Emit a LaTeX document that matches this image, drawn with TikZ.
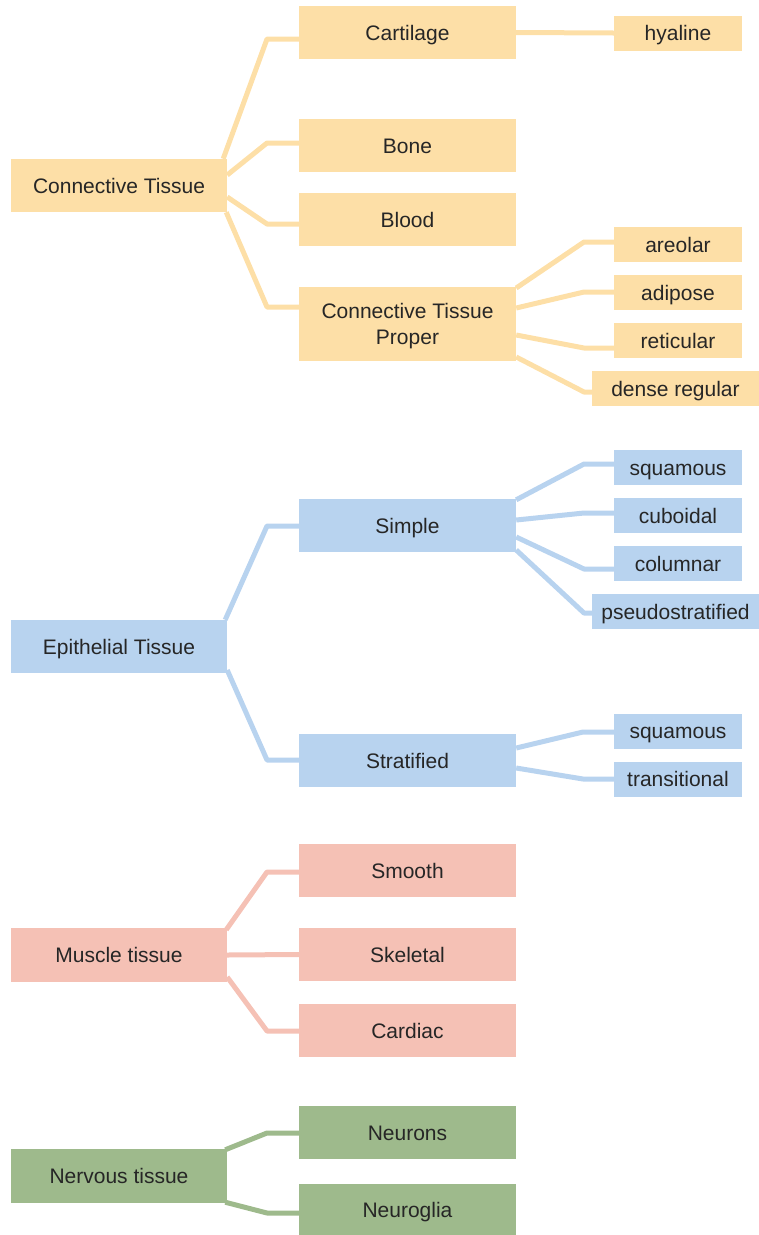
\documentclass[tikz,border=0pt]{standalone}
\usepackage{fontspec}
\setmainfont{Liberation Sans}
\usetikzlibrary{calc,backgrounds}
\definecolor{corg}{HTML}{FDDFA7}
\definecolor{cblu}{HTML}{B8D3EF}
\definecolor{cred}{HTML}{F5C1B5}
\definecolor{cgrn}{HTML}{9EBA8C}
\definecolor{ctxt}{HTML}{262626}
\tikzset{
  box/.style={rectangle, inner sep=0pt, text=ctxt, align=center,
    font=\fontsize{21}{26}\selectfont, text depth=0pt, text height=15pt},
  lvone/.style={box, minimum width=216pt, minimum height=53pt},
  lvtwo/.style={box, minimum width=217pt, minimum height=53pt},
  lvthree/.style={box, minimum width=128pt, minimum height=35pt},
  lvwide/.style={box, minimum width=167pt, minimum height=35pt},
  conn/.style={line width=5pt, line join=round},
}
\begin{document}
\begin{tikzpicture}[x=1pt,y=-1pt]
\useasboundingbox (0,0) rectangle (759,1235);
% Connective tissue
\node[lvone, fill=corg] (ct) at (119,185.5) {Connective Tissue};
\node[lvtwo, fill=corg] (cart) at (407.5,32.5) {Cartilage};
\node[lvtwo, fill=corg] (bone) at (407.5,145.5) {Bone};
\node[lvtwo, fill=corg] (blood) at (407.5,219.5) {Blood};
\node[lvtwo, fill=corg, minimum height=74pt, text height=, text depth=0pt] (ctp) at (407.5,324) {Connective Tissue\\Proper};
\node[lvthree, fill=corg] (hyal) at (678,33) {hyaline};
\node[lvthree, fill=corg] (areo) at (678,244.5) {areolar};
\node[lvthree, fill=corg] (adip) at (678,292.5) {adipose};
\node[lvthree, fill=corg] (retic) at (678,340.5) {reticular};
\node[lvwide, fill=corg] (dense) at (675.5,388.5) {dense regular};
% Epithelial tissue
\node[lvone, fill=cblu] (et) at (119,646.5) {Epithelial Tissue};
\node[lvtwo, fill=cblu] (simple) at (407.5,525.5) {Simple};
\node[lvtwo, fill=cblu] (strat) at (407.5,760.5) {Stratified};
\node[lvthree, fill=cblu] (sqa) at (678,467.5) {squamous};
\node[lvthree, fill=cblu] (cub) at (678,515.5) {cuboidal};
\node[lvthree, fill=cblu] (col) at (678,563.5) {columnar};
\node[lvwide, fill=cblu] (pseudo) at (675.5,611.5) {pseudostratified};
\node[lvthree, fill=cblu] (sqb) at (678,731) {squamous};
\node[lvthree, fill=cblu] (trans) at (678,779) {transitional};
% Muscle tissue
\node[lvone, fill=cred, minimum height=54pt] (mt) at (119,955) {Muscle tissue};
\node[lvtwo, fill=cred] (smooth) at (407.5,870.5) {Smooth};
\node[lvtwo, fill=cred] (skel) at (407.5,954.5) {Skeletal};
\node[lvtwo, fill=cred] (card) at (407.5,1030.5) {Cardiac};
% Nervous tissue
\node[lvone, fill=cgrn, minimum height=54pt] (nt) at (119,1176) {Nervous tissue};
\node[lvtwo, fill=cgrn] (neur) at (407.5,1132.5) {Neurons};
\node[lvtwo, fill=cgrn, minimum height=51pt] (glia) at (407.5,1209.5) {Neuroglia};

\begin{scope}[on background layer]
\begin{scope}[conn, draw=corg]
\draw ($(ct.north east)+(-4,0)$) -- (267,39) -- ($(cart.west)+(0,6.5)$);
\draw ($(ct.east)+(0,-10.5)$) -- (267,143) -- ($(bone.west)+(0,-2.5)$);
\draw ($(ct.east)+(0,11.5)$) -- (267,224) -- ($(blood.west)+(0,4.5)$);
\draw ($(ct.south east)+(-1,0)$) -- (267,307) -- ($(ctp.west)+(0,-17)$);
\draw (cart.east) -- (hyal.west);
\draw ($(ctp.east)+(0,-36)$) -- (584,242) -- ($(areo.west)+(0,-2.5)$);
\draw ($(ctp.east)+(0,-16)$) -- (584,292) -- ($(adip.west)+(0,-0.5)$);
\draw ($(ctp.east)+(0,11)$) -- (584,348) -- ($(retic.west)+(0,7.5)$);
\draw ($(ctp.east)+(0,33)$) -- (584,392) -- ($(dense.west)+(0,3.5)$);
\end{scope}
\begin{scope}[conn, draw=cblu]
\draw ($(et.north east)+(-2,0)$) -- (267,526) -- ($(simple.west)+(0,0.5)$);
\draw ($(et.east)+(0,23.5)$) -- (267,760) -- ($(strat.west)+(0,-0.5)$);
\draw ($(simple.north east)+(0,1)$) -- (584,464) -- ($(sqa.west)+(0,-3.5)$);
\draw ($(simple.east)+(0,-5.5)$) -- (584,513) -- ($(cub.west)+(0,-2.5)$);
\draw ($(simple.east)+(0,11.5)$) -- (584,569) -- ($(col.west)+(0,5.5)$);
\draw ($(simple.east)+(0,24.5)$) -- (584,613) -- ($(pseudo.west)+(0,1.5)$);
\draw ($(strat.east)+(0,-12.5)$) -- (583,732) -- ($(sqb.west)+(0,1)$);
\draw ($(strat.east)+(0,7.5)$) -- (583,779) -- (trans.west);
\end{scope}
\begin{scope}[conn, draw=cred]
\draw ($(mt.north east)+(-1,2)$) -- (267,872) -- ($(smooth.west)+(0,1.5)$);
\draw (mt.east) -- (skel.west);
\draw ($(mt.east)+(0,22)$) -- (267,1031) -- ($(card.west)+(0,0.5)$);
\end{scope}
\begin{scope}[conn, draw=cgrn]
\draw ($(nt.north east)+(-2,1)$) -- (267,1133) -- ($(neur.west)+(0,0.5)$);
\draw ($(nt.south east)+(-2,-1)$) -- (267,1213) -- ($(glia.west)+(0,3.5)$);
\end{scope}
\end{scope}
\end{tikzpicture}
\end{document}
